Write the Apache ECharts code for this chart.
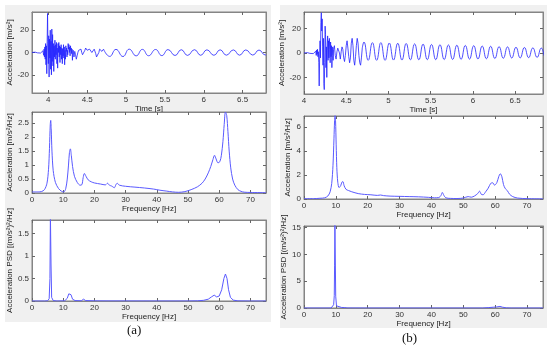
<!DOCTYPE html>
<html><head><meta charset="utf-8">
<script src="https://cdn.jsdelivr.net/npm/echarts@6/dist/echarts.min.js"></script>
<style>html,body{margin:0;padding:0;background:#fff}#c{width:550px;height:348px}</style>
</head><body><div id="c"></div>
<script>
// ---------- tick labels ----------
const timeTicksA = [4, 4.5, 5, 5.5, 6, 6.5];
const timeTicksB = [4, 4.5, 5, 5.5, 6, 6.5];
const accTicks = [-20, 0, 20];
const freqTicks = [0, 10, 20, 30, 40, 50, 60, 70];
const specTicksA = [0, 0.5, 1, 1.5, 2, 2.5];
const specTicksB = [0, 2, 4, 6];
const psdTicksA = [0, 0.5, 1, 1.5];
const psdTicksB = [0, 5, 10, 15];

// ---------- (a) time history [t s, acc m/s2] ----------
const sigA_burst = [
[3.79,0],[3.83,0.3],[3.86,-0.3],[3.88,0.4],[3.90,-0.5],[3.91,0.8],[3.92,-1.2],[3.93,1.5],[3.94,-2.5],[3.945,3],[3.95,-4],[3.955,5],[3.96,-6],[3.965,8],[3.97,-11],[3.975,6],[3.98,-19],[3.985,10],[3.99,35],[3.995,8],
[4.00,-10],[4.005,15],[4.01,-22],[4.015,12],[4.02,-5],[4.025,20],[4.03,-15],[4.035,10],[4.04,-20],[4.045,21],[4.05,-8],[4.055,16],[4.06,-12],[4.065,8],[4.07,-17],[4.075,6],[4.08,-4],[4.085,11],[4.09,-6],[4.095,7],
[4.10,-2],[4.105,9],[4.11,-10],[4.115,4],[4.12,-14],[4.125,8],[4.13,0],[4.135,9],[4.14,-4],[4.145,6],[4.15,-9],[4.155,5],[4.16,-2],[4.165,7],[4.17,-6],[4.175,4],[4.18,-10],[4.185,3],[4.19,-3],[4.195,7],
[4.20,-5],[4.205,5],[4.21,-11],[4.215,2],[4.22,-6],[4.225,6],[4.23,1],[4.235,4],[4.24,-4],[4.245,2],[4.25,-2],[4.255,8],[4.26,3],[4.265,7],[4.27,0],[4.275,5],[4.28,-3],[4.285,6],[4.29,2],[4.295,4],
[4.30,-1],[4.305,3],[4.31,-7],[4.315,0],[4.32,2],[4.33,-4],[4.34,1],[4.35,-2],[4.36,-6],[4.37,-3],[4.38,0],[4.39,2],[4.40,3],[4.41,1],[4.42,3],[4.43,0],[4.44,-2],[4.45,-3],[4.46,-1],[4.47,2],
[4.48,4],[4.49,3],[4.50,2],[4.51,3],[4.52,1],[4.53,3],[4.54,2],[4.55,3],[4.56,0],[4.57,-1],[4.58,1],[4.59,3],[4.60,2],[4.61,-1],[4.62,-4],[4.63,-5],[4.64,-3],[4.65,0],[4.66,3],[4.67,2],[4.68,3],[4.69,1],[4.71,3]
];
const sigA_ring = [
[4.71,3],[4.79,-3.5],[4.87,2.8],[4.96,-3.6],[5.04,3],[5.13,-3],[5.21,2.8],[5.29,-2.9],[5.38,2.7],[5.46,-2.8],[5.54,2.6],[5.63,-2.7],[5.71,2.5],[5.79,-2.6],[5.88,2.5],[5.96,-2.5],
[6.04,2.4],[6.13,-2.5],[6.21,2.4],[6.29,-2.4],[6.38,2.3],[6.46,-2.4],[6.54,2.3],[6.63,-2.3],[6.71,2.2],[6.79,-2.2],[6.80,-2.0]
];

// ---------- (b) time history ----------
const sigB_burst = [
[4.00,0],[4.04,0.3],[4.07,-0.3],[4.09,0.4],[4.11,-0.5],[4.12,0.8],[4.13,-1],[4.14,1.5],[4.145,-2],[4.15,2.5],[4.155,-1],[4.16,3],[4.165,-3],[4.17,1],[4.175,-8],[4.18,-27],[4.185,-5],[4.19,10],[4.195,-4],
[4.20,25],[4.205,33],[4.21,18],[4.215,28],[4.22,5],[4.225,-10],[4.23,12],[4.235,-25],[4.24,-30],[4.245,-8],[4.25,22],[4.255,15],[4.26,-12],[4.265,5],[4.27,-20],[4.275,8],[4.28,14],[4.285,-6],[4.29,10],[4.295,-4],
[4.30,12],[4.305,3],[4.31,-8],[4.315,9],[4.32,-3],[4.325,6],[4.33,-12],[4.335,-2],[4.34,5],[4.345,-6],[4.35,3],[4.36,6],[4.37,-2],[4.38,-5],[4.39,1],[4.40,4],[4.41,3],[4.42,0],[4.43,-5],[4.44,1],
[4.45,5],[4.46,3],[4.47,-4],[4.48,-7],[4.49,-2],[4.50,6],[4.51,10],[4.52,4],[4.53,-3],[4.54,-8],[4.55,-4],[4.56,8],[4.57,12],[4.58,6],[4.59,-6],[4.60,-10],[4.61,-3],[4.62,6],[4.63,12],[4.64,8],
[4.65,-2],[4.66,-8],[4.67,-10],[4.68,-4],[4.69,4]
];
const sigB_ring = [
[4.69,4],[4.71,9],[4.76,-6],[4.81,8.5],[4.86,-6],[4.91,8.5],[4.96,-6],[5.01,8.2],[5.06,-5.8],[5.11,8],[5.16,-5.8],[5.21,7.8],[5.26,-5.6],[5.31,7.5],[5.36,-5.6],[5.41,7.3],[5.46,-5.5],[5.51,7],
[5.56,-5.5],[5.61,6.8],[5.66,-5.4],[5.71,6.6],[5.76,-5.3],[5.81,6.4],[5.86,-5.2],[5.91,6.2],[5.96,-5],[6.01,6],[6.06,-4.9],[6.11,5.7],[6.16,-4.7],[6.21,5.5],[6.26,-4.5],[6.31,5.2],[6.36,-4.3],
[6.41,5],[6.46,-4.1],[6.51,4.7],[6.56,-4],[6.61,4.5],[6.66,-3.8],[6.71,4.2],[6.76,-3.6],[6.81,4],[6.86,-3.4],[6.91,3.8],[6.96,-3.2]
];

// ---------- spectra [Hz, value] ----------
const specA = [
[0,0.04],[2,0.04],[3,0.05],[4,0.12],[4.8,0.35],[5.3,0.85],[5.6,1.6],[5.85,2.45],[6.0,2.6],[6.15,2.3],[6.4,1.5],[6.8,0.8],[7.5,0.38],[8.5,0.16],[9.5,0.06],[10.2,0.04],[10.8,0.15],[11.3,0.5],[11.7,1.0],[12.0,1.45],
[12.3,1.58],[12.6,1.35],[13.0,0.95],[13.6,0.6],[14.5,0.38],[15.4,0.28],[16.0,0.3],[16.4,0.55],[16.8,0.7],[17.3,0.6],[18,0.47],[19,0.4],[20,0.36],[22,0.32],[23.5,0.29],[24.2,0.35],[24.8,0.28],[25.5,0.25],[26.4,0.19],[26.9,0.3],
[27.3,0.35],[28,0.28],[30,0.24],[33,0.21],[36,0.18],[39,0.14],[41,0.1],[43,0.07],[45,0.04],[47,0.025],[49,0.05],[51,0.12],[53,0.22],[54.5,0.35],[55.5,0.5],[56.5,0.72],[57.3,0.95],[58.0,1.2],[58.5,1.35],[59.0,1.22],
[59.6,1.08],[60.2,1.12],[60.7,1.35],[61.2,1.85],[61.6,2.45],[62.0,2.9],[62.4,2.78],[62.8,2.2],[63.2,1.5],[63.7,0.9],[64.3,0.5],[65,0.28],[66,0.12],[67,0.06],[68,0.03],[70,0.02],[75,0.01]
];
const specB = [
[0,0.03],[3,0.03],[5,0.06],[6.5,0.1],[7.5,0.25],[8.2,0.6],[8.7,1.3],[9.1,2.8],[9.4,5.0],[9.6,6.5],[9.75,6.95],[9.9,6.5],[10.1,4.5],[10.3,2.6],[10.6,1.4],[11.0,0.95],[11.5,1.1],[11.9,1.4],[12.2,1.45],[12.6,1.1],
[13.2,0.8],[14,0.7],[15,0.6],[17,0.45],[19,0.38],[21,0.35],[23,0.3],[24,0.33],[25,0.28],[27,0.24],[30,0.22],[33,0.2],[36,0.18],[39,0.14],[41,0.1],[42.3,0.12],[43.0,0.3],[43.4,0.55],[43.9,0.3],[44.5,0.1],
[46,0.05],[48,0.04],[50,0.08],[51.5,0.2],[52.5,0.15],[53.5,0.25],[54.5,0.45],[55.1,0.65],[55.6,0.4],[56.2,0.35],[57,0.6],[57.8,0.9],[58.6,1.3],[59.2,1.35],[59.8,1.15],[60.5,1.35],[61.1,1.85],[61.6,2.1],[62.1,1.85],[62.6,1.2],
[63.2,0.85],[63.8,0.7],[64.5,0.4],[65.5,0.2],[67,0.08],[70,0.03],[75,0.01]
];
const psdA = [
[0,0],[4,0],[5,0.005],[5.5,0.05],[5.75,0.5],[5.9,1.9],[6.0,1.9],[6.1,0.8],[6.3,0.08],[6.8,0.01],[8,0],[10.5,0.005],[11.3,0.06],[11.8,0.16],[12.1,0.2],[12.5,0.14],[13,0.04],[13.8,0.01],[15.8,0.005],[16.5,0.04],
[17.2,0.01],[20,0.004],[25,0.002],[30,0.002],[40,0.001],[50,0.001],[53,0.004],[55,0.015],[56.5,0.04],[57.5,0.09],[58.4,0.13],[59.2,0.09],[60,0.11],[60.8,0.25],[61.5,0.5],[62.0,0.6],[62.5,0.5],[63.0,0.25],[63.6,0.08],[64.5,0.02],
[66,0.003],[70,0],[75,0]
];
const psdB = [
[0,0],[8.5,0],[9.0,0.1],[9.3,0.6],[9.5,2.3],[9.6,8],[9.7,16],[9.85,16],[9.95,2.2],[10.2,0.4],[10.8,0.05],[11.8,0.1],[12.3,0.2],[12.8,0.08],[13.5,0.01],[20,0],[56,0],[58,0.08],[59.5,0.15],[60.5,0.2],
[61.5,0.3],[62.3,0.15],[63.5,0.03],[65,0],[75,0]
];

// ---------- layout ----------
const FONT = 'Liberation Sans';
const AX = '#858585';
const panels = [
  {g:[32,12,234,81], x:[3.79,6.8,timeTicksA,'Time [s]',9], y:[-36.3,36.3,accTicks,'Acceleration [m/s²]',14],
   s:[{d:sigA_burst,sm:false,c:'#2222ff',w:0.8},{d:sigA_ring,sm:true,c:'#2222ff',w:0.8}]},
  {g:[304,12,239,82], x:[4,6.83,timeTicksB,'Time [s]',10], y:[-33.6,33.6,accTicks,'Acceleration [m/s²]',12],
   s:[{d:sigB_burst,sm:false,c:'#2222ff',w:0.8},{d:sigB_ring,sm:true,c:'#2222ff',w:0.8}]},
  {g:[32,112,234,81], x:[0,75,freqTicks,'Frequency [Hz]',9], y:[0,2.9,specTicksA,'Acceleration [m/s²/Hz]',14],
   s:[{d:specA,sm:0.3,c:'#5a5aff',w:1}]},
  {g:[304,116,239,83], x:[0,75,freqTicks,'Frequency [Hz]',9], y:[0,6.9,specTicksB,'Acceleration [m/s²/Hz]',12],
   s:[{d:specB,sm:0.3,c:'#5a5aff',w:1}]},
  {g:[32,220,234,81], x:[0,75,freqTicks,'Frequency [Hz]',9], y:[0,1.8,psdTicksA,'Acceleration PSD [(m/s²)²/Hz]',14],
   s:[{d:psdA,sm:false,c:'#5a5aff',w:1}]},
  {g:[304,226,239,82], x:[0,75,freqTicks,'Frequency [Hz]',9], y:[0,15.3,psdTicksB,'Acceleration PSD [(m/s²)²/Hz]',12],
   s:[{d:psdB,sm:false,c:'#5a5aff',w:1}]}
];

const grid=[], xAxis=[], yAxis=[], series=[];
panels.forEach((p,i)=>{
  grid.push({left:p.g[0],top:p.g[1],width:p.g[2],height:p.g[3],show:true,backgroundColor:'#fff',borderColor:AX,borderWidth:1});
  const common = (ticks,showLab,pos,name,gap,isY)=>({
    type:'value', gridIndex:i, position:pos, min:isY?p.y[0]:p.x[0], max:isY?p.y[1]:p.x[1],
    axisLine:{show:true,onZero:false,lineStyle:{color:AX,width:1}},
    axisTick:{show:true,inside:true,length:3,customValues:ticks,lineStyle:{color:'#666'}},
    axisLabel:{show:showLab,customValues:ticks,fontSize:8,color:'#333',fontFamily:FONT,margin:3},
    splitLine:{show:false},
    name:name, nameLocation:'middle', nameGap:gap, nameRotate:isY?90:0,
    nameTextStyle:{fontSize:8,color:'#222',fontFamily:FONT}
  });
  xAxis.push(common(p.x[2],true,'bottom',p.x[3],p.x[4],false));
  xAxis.push(common(p.x[2],false,'top','',0,false));
  yAxis.push(common(p.y[2],true,'left',p.y[3],p.y[4],true));
  yAxis.push(common(p.y[2],false,'right','',0,true));
  p.s.forEach(s=>{
    series.push({type:'line',xAxisIndex:2*i,yAxisIndex:2*i,data:s.d,smooth:s.sm,showSymbol:false,
      lineStyle:{color:s.c,width:s.w},clip:true,animation:false});
  });
});

const chart = echarts.init(document.getElementById('c'),null,{renderer:'canvas'});
chart.setOption({
  backgroundColor:'#fff',
  animation:false,
  graphic:[
    {type:'rect',z:-100,shape:{x:5,y:5,width:266,height:317},style:{fill:'#f0f0f0'}},
    {type:'rect',z:-100,shape:{x:280,y:5,width:267,height:323},style:{fill:'#f0f0f0'}},
    {type:'text',left:127,top:324,style:{text:'(a)',font:'13px "Liberation Serif"',fill:'#111'}},
    {type:'text',left:402,top:332,style:{text:'(b)',font:'13px "Liberation Serif"',fill:'#111'}}
  ],
  grid, xAxis, yAxis, series
});
</script></body></html>
